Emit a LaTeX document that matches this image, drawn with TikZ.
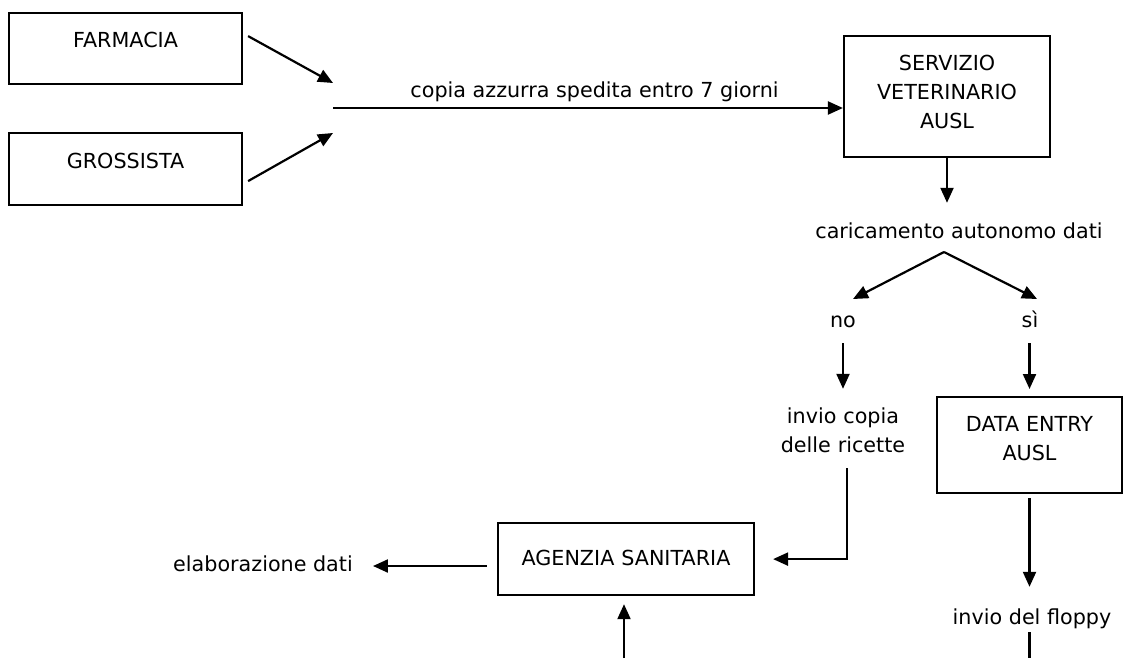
\documentclass[tikz,border=0pt]{standalone}
\usepackage{fontspec}
\setmainfont{DejaVu Sans}
\usetikzlibrary{arrows.meta,calc,positioning}
\tikzset{%
	box/.style      = {draw, line width=2.2pt, anchor=north, inner xsep=0pt, inner ysep=0pt, align=center, text height=34.5pt}, % text box, text at top
	lbl/.style      = {inner sep=0pt, align=center, text height=15.5pt, text depth=4.5pt}, % free text
	waypoint/.style = {coordinate},
	arrow/.style    = {line width=2.2pt, -{Triangle[length=15pt, width=13pt]}},
	wire/.style     = {line width=2.2pt},
}

\begin{document}
\begin{tikzpicture}[x=1pt, y=-1pt, font=\fontsize{20.7}{29}\selectfont]
	\useasboundingbox (0,0) rectangle (1123,658);

	\node[box, text width=233pt, text depth=36.5pt] (farm) at (125.5,12) {FARMACIA};
	\node[box, text width=233pt, text height=35.5pt, text depth=36.5pt] (gross) at (125.5,132) {GROSSISTA};
	\node[box, text width=206pt, text depth=86.5pt] (serv) at (947,35) {SERVIZIO\\VETERINARIO\\AUSL};
	\node[box, text width=185pt, text depth=61.5pt] (data) at (1029.5,396) {DATA ENTRY\\AUSL};
	\node[box, text width=256pt, text height=42.5pt, text depth=29.5pt] (agenzia) at (626,522) {AGENZIA SANITARIA};

	\node[lbl] (caric) at (959,233) {caricamento autonomo dati};
	\node[lbl] (no) at (843,322) {no};
	\node[lbl] (si) at (1030,322) {sì};
	\node[lbl, text width=140pt, text depth=33.5pt] (ricette) at (843,432.5) {invio copia\\delle ricette};
	\node[lbl] (floppy) at (1032,619) {invio del floppy};
	\node[lbl] (elab) at (263,566) {elaborazione dati};

	\node[waypoint] (mergeA) at (333,83) {};
	\node[waypoint] (mergeB) at (333,133) {};
	\node[waypoint] (join) at (333,108) {};
	\node[waypoint] (split) at (944,252) {};
	\node[waypoint] (notip) at (853,299) {};
	\node[waypoint] (sitip) at (1037,299) {};
	\node[waypoint] (upin) at (624,658) {};
	\node[waypoint] (floppyout) at (1029.5,658) {};

	\draw[arrow] ([shift={(5,-12.5)}]farm.east) -- (mergeA);
	\draw[arrow] ([shift={(5,12)}]gross.east) -- (mergeB);
	\draw[arrow] (join) -- (join -| serv.west) node[lbl, pos=0.513, above=5pt] {copia azzurra spedita entro 7 giorni};
	\draw[arrow, shorten >=20pt] (serv.south) -- (serv.south |- caric.north);
	\draw[arrow] (split) -- (notip);
	\draw[arrow] (split) -- (sitip);
	\draw[arrow, shorten <=11pt, shorten >=19pt] (no.south) -- (no.south |- ricette.north);
	\draw[arrow, shorten <=11pt, shorten >=7pt] (data.north |- si.south) -- (data.north);
	\draw[arrow, shorten <=11pt, shorten >=18pt] ([xshift=4pt]ricette.south) |- (agenzia.east);
	\draw[arrow, shorten <=10pt, shorten >=20pt] (agenzia.west |- elab.east) -- (elab.east);
	\draw[arrow, shorten >=8pt] (upin) -- (upin |- agenzia.south);
	\draw[arrow, shorten <=4pt, shorten >=22pt] (data.south) -- (data.south |- floppy.north);
	\draw[wire, shorten <=3pt] (data.south |- floppy.south) -- (floppyout);
\end{tikzpicture}
\end{document}
